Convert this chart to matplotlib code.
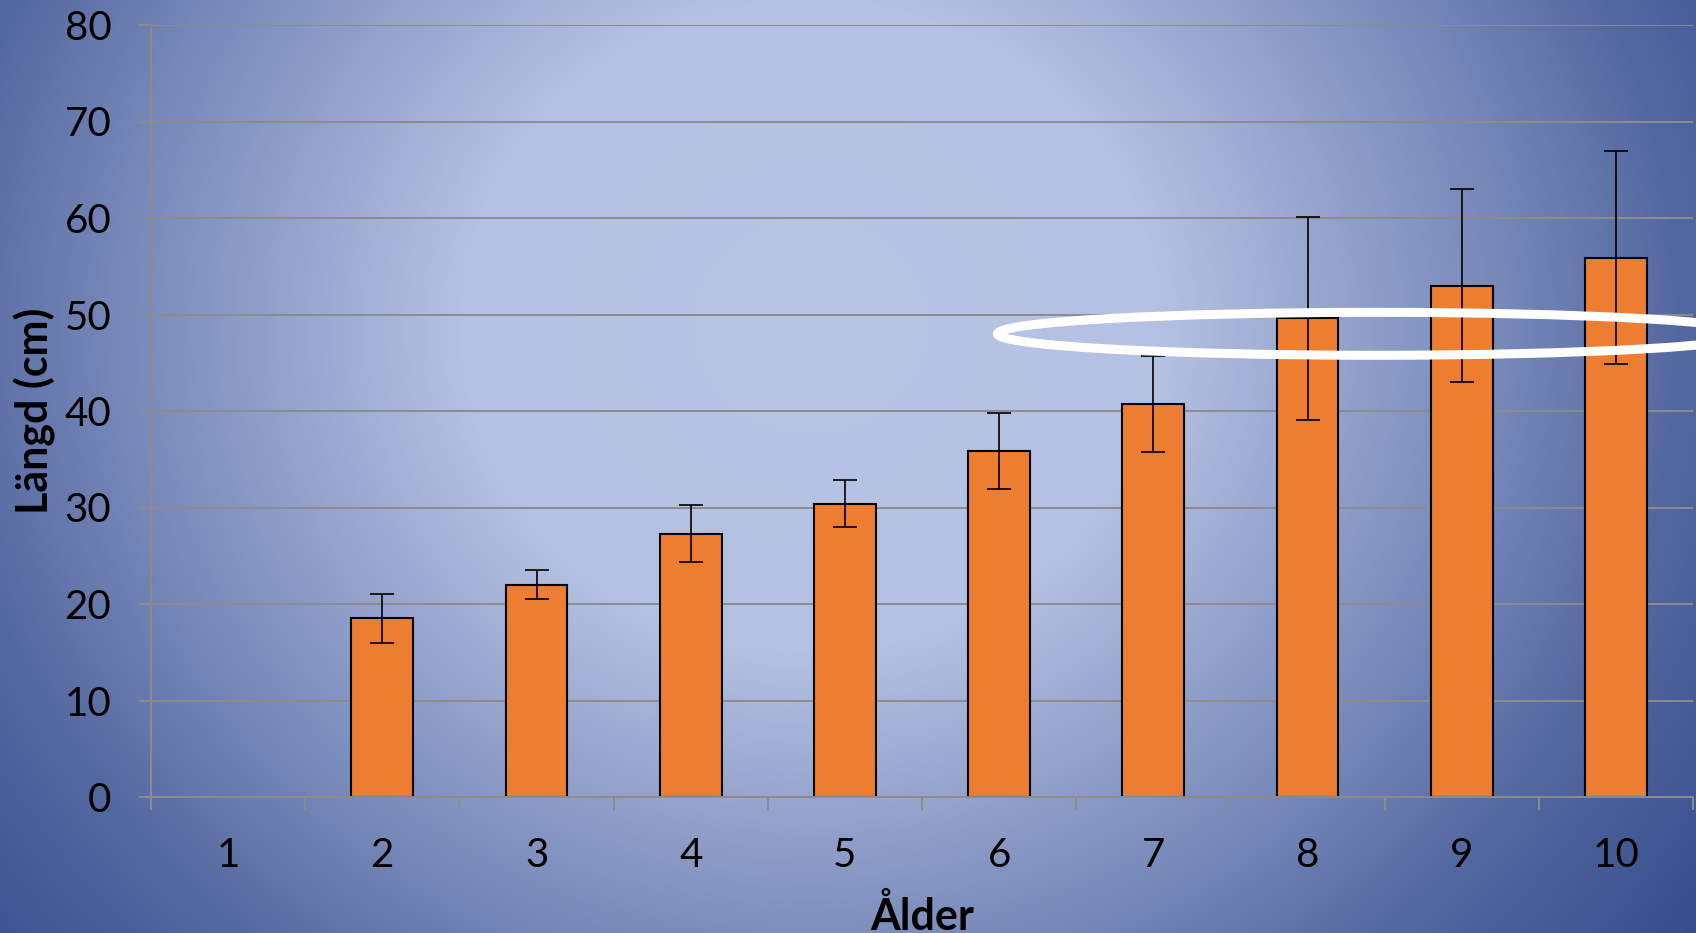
import numpy as np
import matplotlib
matplotlib.use("Agg")
import matplotlib.pyplot as plt
from matplotlib.colors import LinearSegmentedColormap
from matplotlib.patches import Ellipse

plt.rcParams['font.family'] = ['Lato', 'DejaVu Sans']

# data
ages = [1, 2, 3, 4, 5, 6, 7, 8, 9, 10]
lengths = [np.nan, 18.5, 22.0, 27.3, 30.4, 35.85, 40.7, 49.6, 53.0, 55.9]
errors = [np.nan, 2.5, 1.5, 2.95, 2.4, 3.9, 5.0, 10.5, 10.0, 11.05]
y_ticks = [0, 10, 20, 30, 40, 50, 60, 70, 80]

W, H = 1696, 933
fig = plt.figure(figsize=(W / 100, H / 100), dpi=100)

# radial blue background
bg = fig.add_axes([0, 0, 1, 1], zorder=-1)
yy, xx = np.mgrid[0:H, 0:W]
r = np.sqrt(((xx - 810) / 870.0) ** 2 + ((yy - 325) / 810.0) ** 2)
rmax = 1.35
cmap = LinearSegmentedColormap.from_list(
    'bg', [(0.0, '#b8c4e4'), (0.4 / rmax, '#b5c1e2'), (0.8 / rmax, '#7687b8'),
           (1.0 / rmax, '#5468a0'), (1.0, '#2c4586')])
bg.imshow(np.clip(r, 0, rmax), cmap=cmap, vmin=0, vmax=rmax, aspect='auto',
          interpolation='bilinear')
bg.axis('off')

ax = fig.add_axes([151 / W, 1 - 797 / H, 1542 / W, 772 / H])
ax.patch.set_alpha(0)

ax.bar(ages, lengths, width=0.4, color='#ed7d31', edgecolor='black',
       linewidth=1.5, zorder=2)
ax.errorbar(ages, lengths, yerr=errors, fmt='none', ecolor='black',
            elinewidth=1.2, capsize=8.5, capthick=1.2, zorder=3)

ax.add_patch(Ellipse((8.44, 48.0), 4.9, 4.45, fill=False, edgecolor='white',
                     linewidth=6.5, zorder=4, clip_on=False))

ax.set_xlim(0.5, 10.5)
ax.set_ylim(0, 80)
ax.set_yticks(y_ticks)
ax.set_xticks(ages)
ax.set_xticks(np.arange(0.5, 11, 1), minor=True)

grid_col = '#8c8c8c'
ax.grid(axis='y', color=grid_col, linewidth=1.4, zorder=0)
ax.set_axisbelow(True)
for s in ['top', 'right']:
    ax.spines[s].set_visible(False)
for s in ['left', 'bottom']:
    ax.spines[s].set_color(grid_col)
    ax.spines[s].set_linewidth(1.4)

ax.tick_params(axis='y', length=8.6, width=1.4, color=grid_col,
               labelsize=29, pad=20)
ax.tick_params(axis='x', which='major', length=0, labelsize=29, pad=29)
ax.tick_params(axis='x', which='minor', length=9.4, width=1.4, color=grid_col)

fig.text(35 / W, 1 - 411 / H, 'Längd (cm)', rotation=90, ha='center',
         va='center', fontsize=31, fontweight='bold')
fig.text(922 / W, 1 - 930 / H, 'Ålder', ha='center', va='baseline',
         fontsize=31, fontweight='bold')

fig.savefig('out.png', dpi=100)
